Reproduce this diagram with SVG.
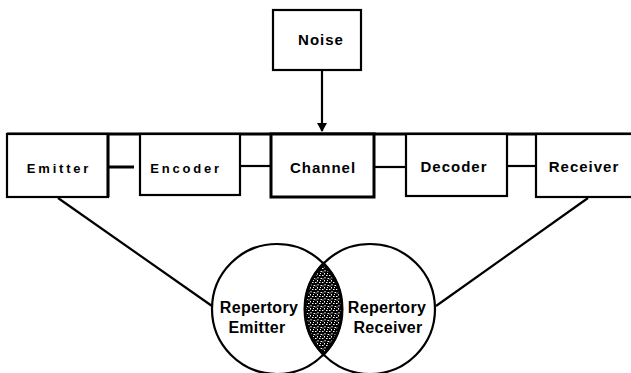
<svg xmlns="http://www.w3.org/2000/svg" width="631" height="373" viewBox="0 0 631 373">
<style>
.box{fill:#fff;stroke:#000;stroke-width:2.2}
.thick{stroke-width:3}
.ln{stroke:#000;stroke-width:2.2;fill:none}
.t{font-family:"Liberation Sans",Arial,sans-serif;font-weight:bold;fill:#000;text-anchor:middle}
.row{font-size:15px;letter-spacing:1px}
.sp{font-size:13px;letter-spacing:2.8px}
.ct{font-size:16px;letter-spacing:0.3px}
</style>
<defs>
<pattern id="stip" width="7" height="7" patternUnits="userSpaceOnUse">
<rect width="7" height="7" fill="#000"/>
<rect x="0" y="2" width="1.5" height="1" fill="#fff"/>
<rect x="2" y="0" width="1" height="1.5" fill="#fff"/>
<rect x="4" y="2" width="1.5" height="1" fill="#fff"/>
<rect x="2.5" y="4" width="1" height="1.5" fill="#fff"/>
<rect x="5.5" y="5" width="1.5" height="1" fill="#fff"/>
<rect x="0.5" y="5.5" width="1" height="1" fill="#fff"/>
<rect x="5" y="0" width="1" height="1" fill="#fff"/>
</pattern>
<marker id="ah" markerWidth="10" markerHeight="12" refX="8" refY="5" orient="auto" markerUnits="userSpaceOnUse">
<path d="M0,0 L9,5 L0,10 Z" fill="#000"/>
</marker>
</defs>
<g id="connectors">
<line class="ln" x1="322" y1="70" x2="322" y2="131" marker-end="url(#ah)"/>
<line class="ln" x1="7" y1="134" x2="631" y2="134" style="stroke-width:2.8"/>
<line class="ln" x1="104" y1="167" x2="134" y2="167" style="stroke-width:3"/>
<line class="ln" x1="240" y1="166" x2="270" y2="166"/>
<line class="ln" x1="374" y1="167" x2="406" y2="167"/>
<line class="ln" x1="507" y1="166" x2="536" y2="166"/>
<line class="ln" x1="58" y1="198" x2="212" y2="306"/>
<line class="ln" x1="588" y1="198" x2="436" y2="306"/>
</g>
<g id="noise">
<rect class="box" x="273" y="10" width="88" height="60"/>
<text class="t row" x="321" y="45">Noise</text>
</g>
<g id="emitter">
<rect class="box" x="7" y="134" width="101" height="63"/>
<line class="ln" x1="108" y1="134" x2="108" y2="197" style="stroke-width:3"/>
<text class="t sp" x="59" y="173">Emitter</text>
</g>
<g id="encoder">
<rect class="box" x="140" y="134" width="100" height="61"/>
<text class="t sp" x="186" y="173">Encoder</text>
</g>
<g id="channel">
<rect class="box thick" x="271" y="134" width="103" height="63"/>
<text class="t row" x="323" y="173">Channel</text>
</g>
<g id="decoder">
<rect class="box" x="406" y="134" width="101" height="62"/>
<text class="t row" x="454" y="172">Decoder</text>
</g>
<g id="receiver">
<rect class="box" x="536" y="134" width="110" height="63"/>
<text class="t row" x="584" y="172">Receiver</text>
</g>
<g id="repertory-emitter">
<circle class="ln" cx="277" cy="309" r="65"/>
</g>
<g id="repertory-receiver">
<circle class="ln" cx="370" cy="309" r="65"/>
</g>
<g id="overlap">
<path d="M323.5,263.6 A65,65 0 0,1 323.5,354.4 A65,65 0 0,1 323.5,263.6 Z" fill="url(#stip)" stroke="#000" stroke-width="3"/>
</g>
<g id="labels">
<text class="t ct" x="259" y="313">Repertory</text>
<text class="t ct" x="257" y="333">Emitter</text>
<text class="t ct" x="387" y="313">Repertory</text>
<text class="t ct" x="388" y="333">Receiver</text>
</g>
</svg>
